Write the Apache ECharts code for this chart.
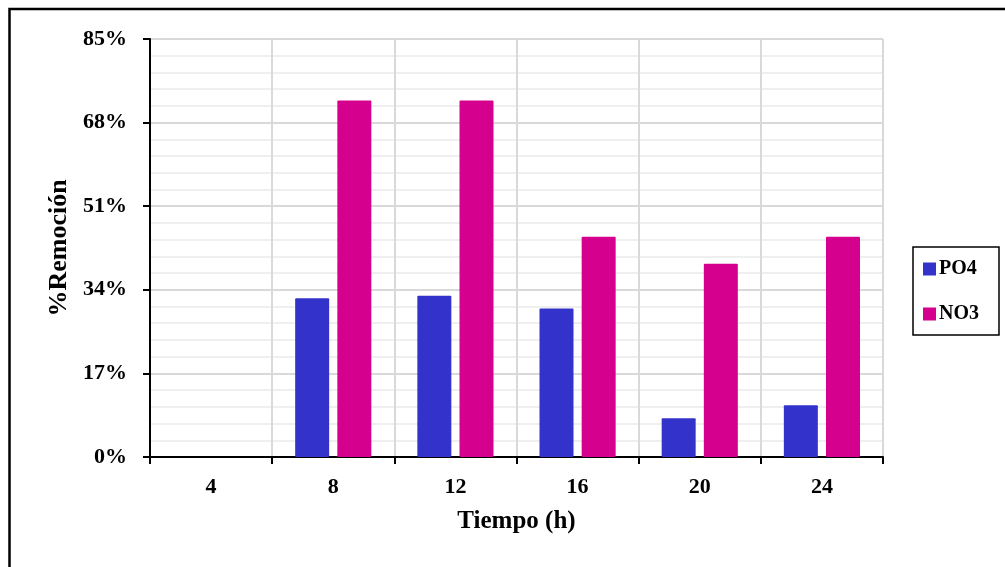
<!DOCTYPE html>
<html>
<head>
<meta charset="utf-8">
<script src="https://cdn.jsdelivr.net/npm/echarts@6/dist/echarts.min.js"></script>
<style>
  html, body { margin: 0; padding: 0; background: #fff; }
  #chart { width: 1005px; height: 567px; }
</style>
</head>
<body>
<div id="chart"></div>
<script>
// Hours of sampling
const tiempos = ['4', '8', '12', '16', '20', '24'];
// Removal percentage per nutrient
const po4 = [0, 32.3, 32.8, 30.2, 7.9, 10.5];
const no3 = [0, 72.5, 72.5, 44.8, 39.3, 44.8];
// Y axis scale (percent)
const yMin = 0, yMax = 85, yStep = 17;

const serif = "'Liberation Serif', 'Times New Roman', serif";

const chart = echarts.init(document.getElementById('chart'), null, { renderer: 'canvas' });
chart.setOption({
  backgroundColor: '#ffffff',
  animation: false,
  graphic: [{
    type: 'rect',
    silent: true,
    shape: { x: 9.5, y: 9, width: 1200, height: 1000 },
    style: { fill: 'none', stroke: '#000', lineWidth: 2.5 }
  }],
  grid: { left: 150, right: 122, top: 39, bottom: 110, containLabel: false },
  legend: {
    orient: 'vertical',
    left: 913, top: 247,
    padding: [12, 20, 11, 10],
    borderColor: '#000', borderWidth: 1.5,
    itemWidth: 13, itemHeight: 13, itemGap: 25,
    icon: 'rect',
    textStyle: { fontFamily: serif, fontWeight: 'bold', fontSize: 20, color: '#000', padding: [0, 0, 0, -2], lineHeight: 20 },
    data: ['PO4', 'NO3']
  },
  xAxis: {
    type: 'category',
    data: tiempos,
    name: 'Tiempo (h)',
    nameLocation: 'middle',
    nameGap: 52,
    nameTextStyle: { fontFamily: serif, fontWeight: 'bold', fontSize: 25, color: '#000' },
    axisLine: { lineStyle: { color: '#000', width: 2 } },
    axisTick: { show: true, length: 7, lineStyle: { color: '#000', width: 2 } },
    axisLabel: { fontFamily: serif, fontWeight: 'bold', fontSize: 22, color: '#000', margin: 19 },
    splitLine: { show: true, lineStyle: { color: '#d9d9d9', width: 2 } }
  },
  yAxis: {
    type: 'value',
    min: yMin, max: yMax, interval: yStep,
    name: '%Remoción',
    nameLocation: 'middle',
    nameGap: 77,
    nameTextStyle: { fontFamily: serif, fontWeight: 'bold', fontSize: 26, color: '#000' },
    axisLine: { show: true, lineStyle: { color: '#000', width: 2 } },
    axisTick: { show: true, length: 7, lineStyle: { color: '#000', width: 2 } },
    axisLabel: { fontFamily: serif, fontWeight: 'bold', fontSize: 22, color: '#000', margin: 23, formatter: '{value}%' },
    splitLine: { show: true, lineStyle: { color: '#d9d9d9', width: 2 } },
    minorTick: { show: false, splitNumber: 5 },
    minorSplitLine: { show: true, lineStyle: { color: '#efefef', width: 2 } }
  },
  series: [
    {
      name: 'PO4', type: 'bar', data: po4,
      barWidth: 34, barGap: '24%',
      itemStyle: { color: '#3333cc', borderRadius: 1 }
    },
    {
      name: 'NO3', type: 'bar', data: no3,
      barWidth: 34,
      itemStyle: { color: '#d6008f', borderRadius: 1 }
    }
  ]
});
</script>
</body>
</html>
